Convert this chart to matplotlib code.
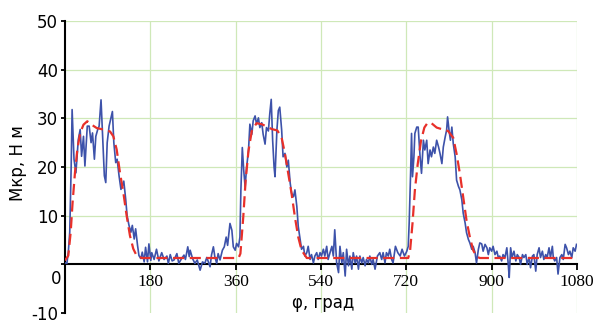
import matplotlib
matplotlib.use("Agg")
import matplotlib.pyplot as plt

# measured torque (blue, noisy)
phi_meas = [0, 4, 7, 10, 13, 15, 19, 23, 28, 32, 35, 39, 42, 47, 51, 55, 58, 62, 65, 69,
            72, 76, 80, 83, 86, 89, 93, 96, 100, 103, 107, 110, 114, 118, 121, 124, 128, 131, 135, 139,
            142, 146, 149, 153, 156, 160, 163, 167, 170, 174, 177, 181, 183, 188, 193, 198, 204, 209, 215, 218,
            222, 226, 230, 236, 240, 246, 251, 254, 259, 262, 264, 269, 274, 279, 285, 290, 295, 299, 301, 306,
            309, 313, 316, 320, 323, 327, 332, 336, 340, 343, 348, 352, 355, 359, 362, 366, 369, 371, 374, 377,
            380, 383, 387, 390, 394, 397, 401, 404, 408, 411, 415, 418, 422, 425, 429, 432, 435, 438, 441, 443,
            447, 450, 453, 457, 460, 464, 468, 471, 475, 478, 482, 485, 489, 492, 496, 499, 503, 506, 510, 513,
            517, 520, 524, 527, 531, 534, 538, 541, 545, 548, 552, 555, 559, 563, 566, 569, 573, 577, 580, 584,
            587, 591, 594, 598, 601, 605, 608, 612, 615, 619, 622, 626, 629, 633, 636, 640, 643, 647, 650, 654,
            659, 664, 668, 671, 675, 678, 682, 685, 689, 692, 697, 702, 707, 711, 716, 721, 724, 726, 729, 731,
            733, 736, 738, 742, 745, 749, 752, 756, 759, 763, 766, 770, 773, 777, 780, 784, 788, 791, 795, 798,
            802, 805, 807, 810, 813, 816, 819, 823, 826, 830, 833, 837, 840, 844, 847, 851, 854, 858, 861, 865,
            868, 872, 875, 879, 882, 886, 890, 893, 896, 900, 903, 907, 911, 914, 917, 921, 924, 928, 932, 935,
            937, 940, 943, 947, 951, 954, 958, 961, 965, 968, 972, 975, 979, 982, 986, 989, 993, 996, 1000, 1003,
            1007, 1010, 1014, 1017, 1021, 1024, 1028, 1030, 1033, 1037, 1040, 1044, 1048, 1051, 1055, 1058, 1062, 1065, 1069, 1072,
            1076, 1079]
m_meas = [0.3, 0.2, 2.5, 6.6, 20.0, 31.8, 21.6, 18.8, 25.6, 27.7, 22.2, 26.3, 20.2, 28.4, 28.4, 25.0, 27.0, 21.6, 26.3, 27.7,
          28.4, 33.8, 25.0, 18.2, 16.8, 25.0, 28.4, 29.7, 31.4, 25.0, 20.9, 21.6, 18.2, 15.4, 16.1, 17.1, 13.4, 10.0, 8.0, 6.6,
          8.0, 5.2, 7.3, 3.9, 1.8, 1.2, 2.5, 0.5, 3.5, 0.5, 4.2, 0.8, 2.4, 1.0, 3.1, 0.7, 2.4, 1.0, 1.7, 0.2,
          2.0, 0.7, 0.9, 2.2, 0.2, 1.2, 1.9, 1.0, 3.6, 1.6, 2.9, 1.2, 0.2, 0.9, -1.2, 0.5, 0.2, 1.4, 0.9, -0.5,
          1.9, 3.6, 1.6, 0.2, 2.2, 0.9, 2.9, 3.6, 5.6, 3.9, 8.4, 7.0, 3.6, 2.9, 4.3, 3.6, 5.6, 15.2, 24.0, 19.3,
          15.9, 19.9, 23.3, 28.8, 26.7, 29.5, 30.5, 28.8, 30.1, 28.1, 29.1, 26.7, 24.7, 28.1, 27.4, 31.0, 33.9, 25.5, 20.0, 18.0,
          27.6, 31.6, 32.3, 27.6, 22.1, 22.8, 20.0, 21.4, 16.7, 14.6, 13.9, 15.3, 11.9, 7.8, 5.1, 3.1, 3.7, 1.7, 2.4, 3.7,
          1.0, 2.0, 0.3, 1.7, 2.4, 1.0, 2.4, 1.7, 3.1, 1.7, 3.7, 1.0, 2.4, 3.7, 1.7, 7.1, 0.3, -1.7, 3.7, 0.3,
          2.4, -2.4, 3.1, -0.3, 1.7, -1.0, 2.4, 0.3, 1.7, -1.0, 1.7, 0.3, 1.4, -0.3, 1.0, 0.3, 1.7, 0.0, 1.0, -1.0,
          1.7, 2.4, 1.0, 2.4, 0.3, 2.4, 1.7, 3.1, 1.0, 0.3, 3.7, 2.4, 1.7, 3.1, 1.7, 2.7, 3.7, 8.5, 18.7, 26.9,
          18.0, 22.1, 26.9, 28.2, 28.2, 22.1, 18.7, 25.5, 23.5, 25.5, 20.7, 23.5, 22.1, 24.1, 22.8, 25.5, 24.1, 22.8, 20.7, 24.1,
          26.2, 27.6, 30.3, 27.6, 25.5, 28.2, 24.8, 22.1, 17.3, 16.0, 15.3, 13.3, 10.5, 8.5, 6.5, 5.1, 4.4, 3.1, 3.7, 2.4,
          0.3, 3.1, 4.4, 4.2, 2.7, 4.1, 3.4, 2.0, 3.4, 2.7, 3.7, 2.0, 2.7, 1.4, 1.7, 0.7, 2.0, 1.4, 3.4, 0.0,
          -2.7, 3.4, 1.4, 2.7, 0.7, 2.0, 1.4, 0.0, 2.0, 1.4, 2.0, 0.0, 1.4, -0.7, 1.7, 2.0, -1.4, 2.0, 3.4, 1.4,
          2.7, 1.0, 2.0, 1.4, 3.4, 1.4, 3.7, 1.4, 0.7, 1.4, -2.0, 1.4, 2.0, 1.0, 4.1, 3.4, 2.0, 2.7, 1.4, 3.4,
          2.7, 4.1]

# model torque (red, dashed)
phi_model = [0, 7, 12, 16, 21, 26, 32, 39, 47, 56, 67, 81, 95, 102, 109, 116, 123, 130, 137, 144,
             151, 162, 366, 370, 376, 381, 387, 394, 404, 415, 436, 448, 457, 464, 471, 478, 485, 492, 499, 510,
             724, 728, 733, 738, 744, 751, 758, 765, 773, 784, 794, 808, 819, 826, 833, 840, 847, 854, 861, 868,
             875, 1080]
m_model = [0.8, 1.8, 6.6, 12.7, 18.8, 23.6, 27.0, 28.7, 29.4, 28.7, 28.0, 27.7, 27.3, 26.3, 23.6, 18.8, 14.8, 10.0, 5.9, 3.2,
           1.8, 1.3, 1.3, 2.2, 9.7, 17.2, 23.3, 27.4, 29.0, 28.8, 27.8, 27.5, 26.0, 22.7, 18.6, 14.5, 9.7, 5.6, 2.9, 1.3,
           1.3, 2.9, 8.4, 15.2, 20.6, 25.4, 28.1, 29.1, 29.0, 28.1, 27.8, 27.4, 26.0, 22.7, 18.6, 13.8, 9.0, 5.6, 2.9, 1.6,
           1.3, 1.3]

x_ticks = [180, 360, 540, 720, 900, 1080]
y_ticks = [-10, 0, 10, 20, 30, 40, 50]

fig = plt.figure(figsize=(5.94, 3.23), dpi=100)
ax = fig.add_axes([65 / 594, 1 - 313 / 323, 512 / 594, 292 / 323])

grid_col = '#cfe8b8'
for x in x_ticks:
    ax.axvline(x, color=grid_col, lw=0.9, zorder=0)
for y in [10, 20, 30, 40, 50]:
    ax.axhline(y, color=grid_col, lw=0.9, zorder=0)

ax.plot(phi_meas, m_meas, color='#3d52aa', lw=1.2, zorder=3)
ax.plot(phi_model, m_model, color='#e8302a', lw=1.6, dashes=(5, 2.5), zorder=4)

ax.set_xlim(0, 1080)
ax.set_ylim(-10, 50)

for s in ['top', 'right']:
    ax.spines[s].set_visible(False)
ax.spines['bottom'].set_position(('data', 0))
ax.spines['bottom'].set_linewidth(1.5)
ax.spines['left'].set_linewidth(1.5)

ax.set_xticks(x_ticks)
ax.set_xticklabels([str(v) for v in x_ticks], family='Liberation Serif', fontsize=12.5)
ax.set_yticks(y_ticks)
ax.set_yticklabels(['' if v == 0 else str(v) for v in y_ticks], fontsize=12)
ax.tick_params(axis='x', direction='out', length=4, width=1.3, pad=3)
ax.tick_params(axis='y', direction='out', length=3, width=1.3, pad=2)

# the "0" label sits a little below its tick
ax.text(-8, -3.1, '0', ha='right', va='center', fontsize=12)

ax.text(545, -8, 'φ, град', ha='center', va='center', fontsize=12)
fig.text(18 / 594, 1 - 163 / 323, 'Мкр, Н м', rotation=90, ha='center', va='center', fontsize=12)

fig.savefig('out.png', dpi=100)
